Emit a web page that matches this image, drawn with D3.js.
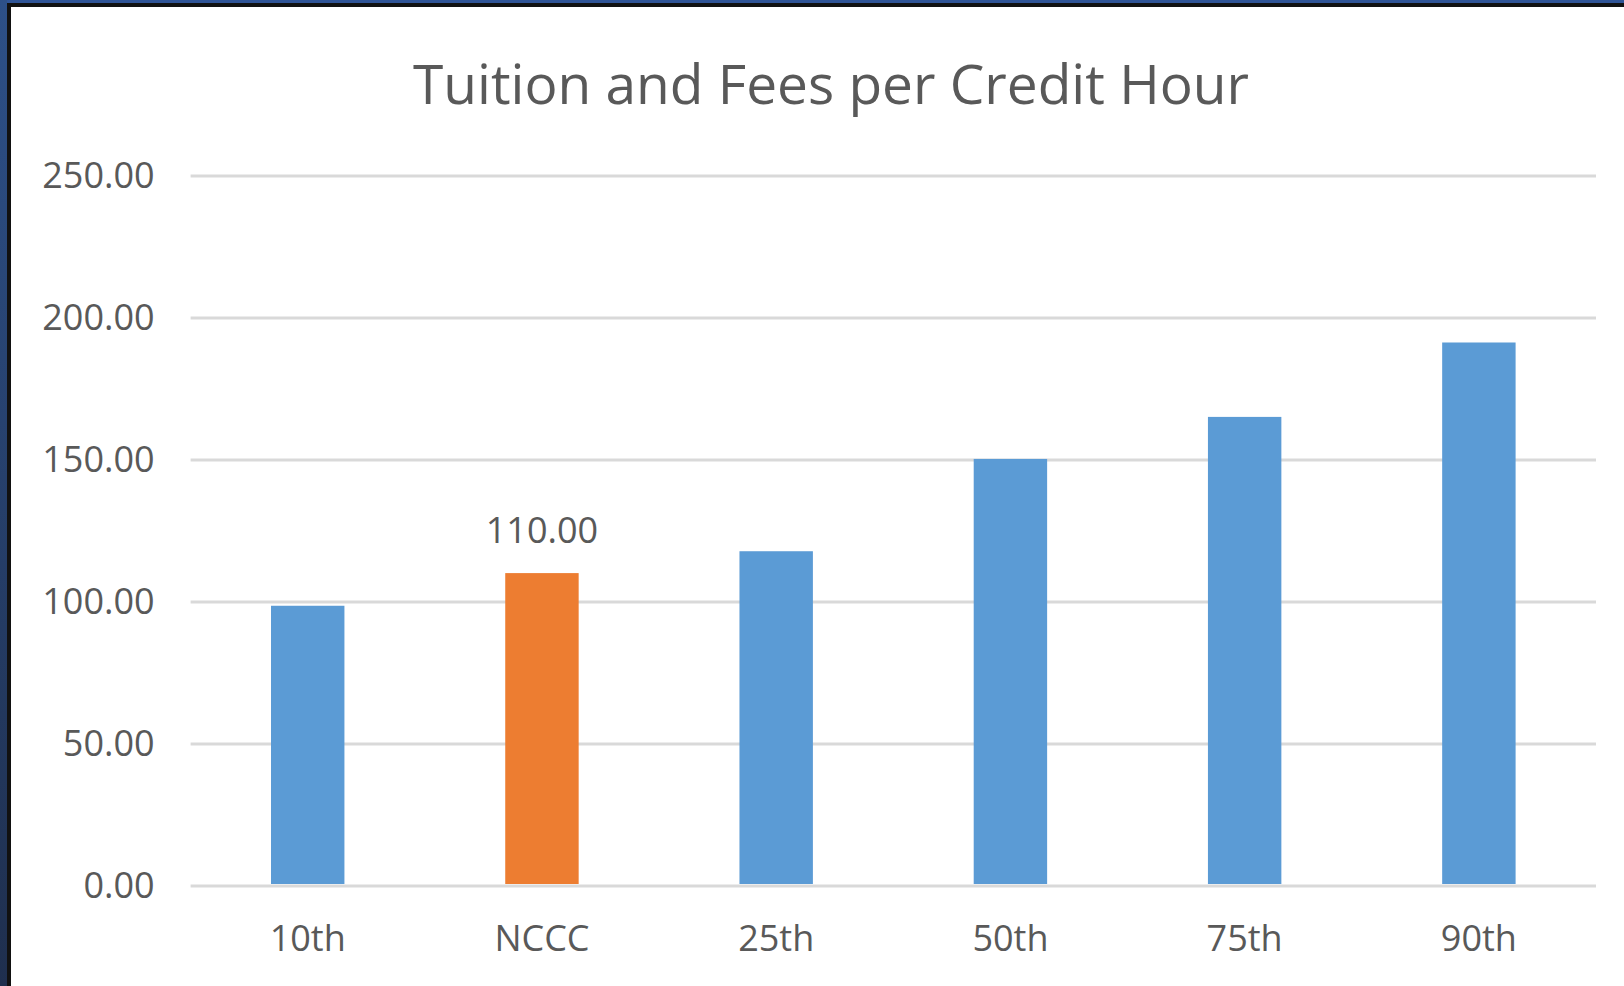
<!DOCTYPE html>
<html>
<head>
<meta charset="utf-8">
<script src="https://cdn.jsdelivr.net/npm/d3@7"></script>
<style>
  html, body { margin: 0; padding: 0; background: #ffffff; }
  svg { display: block; }
  text { font-family: "Open Sans", "Noto Sans", sans-serif; fill: #595959; }
</style>
</head>
<body>
<svg id="chart" width="1624" height="986"></svg>
<script>
// ---- data ----
const categories = ["10th", "NCCC", "25th", "50th", "75th", "90th"];
const values = [98.5, 110, 117.7, 150.2, 165, 191.2];
const highlighted = ["NCCC"];
const labelled = ["NCCC"];
const yTicks = [0, 50, 100, 150, 200, 250];
const titleText = "Tuition and Fees per Credit Hour";

const W = 1624, H = 986;
const svg = d3.select("#chart");

// frame
const defs = svg.append("defs");
const grad = defs.append("linearGradient").attr("id", "leftGrad")
  .attr("x1", 0).attr("y1", 0).attr("x2", 0).attr("y2", 1);
grad.append("stop").attr("offset", "0%").attr("stop-color", "#2d5088");
grad.append("stop").attr("offset", "100%").attr("stop-color", "#1f2f4e");

svg.append("rect").attr("x", 0).attr("y", 0).attr("width", W).attr("height", H).attr("fill", "#ffffff");
svg.append("rect").attr("x", 0).attr("y", 0).attr("width", W).attr("height", 3).attr("fill", "#2f5496");
svg.append("rect").attr("x", 7).attr("y", 3).attr("width", W - 7).attr("height", 4).attr("fill", "#111111");
svg.append("rect").attr("x", 0).attr("y", 0).attr("width", 7).attr("height", H).attr("fill", "url(#leftGrad)");
svg.append("rect").attr("x", 7).attr("y", 3).attr("width", 4).attr("height", H - 3).attr("fill", "#111111");

// scales
const plot = { left: 190.6, right: 1596, top: 175.5, bottom: 885.5 };
const x = d3.scaleBand().domain(categories)
  .range([plot.left, plot.right])
  .paddingInner(2.19 / 3.19)
  .paddingOuter(2.19 / 3.19 / 2);
const y = d3.scaleLinear().domain([0, 250]).range([plot.bottom, plot.top]);

// gridlines + y axis
const yAxis = d3.axisLeft(y)
  .tickValues(yTicks)
  .tickFormat(d3.format(".2f"))
  .tickSize(-(plot.right - plot.left))
  .tickPadding(36);
const gy = svg.append("g").attr("transform", `translate(${plot.left},0)`).call(yAxis);
gy.select(".domain").remove();
gy.selectAll(".tick line").attr("stroke", "#d9d9d9").attr("stroke-width", 3);
gy.selectAll(".tick text")
  .attr("fill", "#595959")
  .style("font-size", "36px")
  .style("font-family", '"Open Sans", "Noto Sans", sans-serif');

// bars
svg.append("g").selectAll("rect")
  .data(categories.map((c, i) => ({ c, v: values[i] })))
  .join("rect")
  .attr("x", d => x(d.c))
  .attr("width", x.bandwidth())
  .attr("y", d => y(d.v))
  .attr("height", d => y(0) - y(d.v) - 1.5)
  .attr("fill", d => highlighted.includes(d.c) ? "#ed7d31" : "#5b9bd5");

// data labels
svg.append("g").selectAll("text")
  .data(categories.map((c, i) => ({ c, v: values[i] })).filter(d => labelled.includes(d.c)))
  .join("text")
  .attr("x", d => x(d.c) + x.bandwidth() / 2)
  .attr("y", d => y(d.v) - 30)
  .attr("text-anchor", "middle")
  .style("font-size", "36px")
  .text(d => d3.format(".2f")(d.v));

// x axis
const xAxis = d3.axisBottom(x).tickSize(0).tickPadding(40);
const gx = svg.append("g").attr("transform", `translate(0,${plot.bottom})`).call(xAxis);
gx.select(".domain").remove();
gx.selectAll(".tick text")
  .attr("fill", "#595959")
  .style("font-size", "36px")
  .style("font-family", '"Open Sans", "Noto Sans", sans-serif');

// title
svg.append("text")
  .attr("x", 831)
  .attr("y", 103.5)
  .attr("text-anchor", "middle")
  .style("font-size", "55px")
  .text(titleText);
</script>
</body>
</html>
